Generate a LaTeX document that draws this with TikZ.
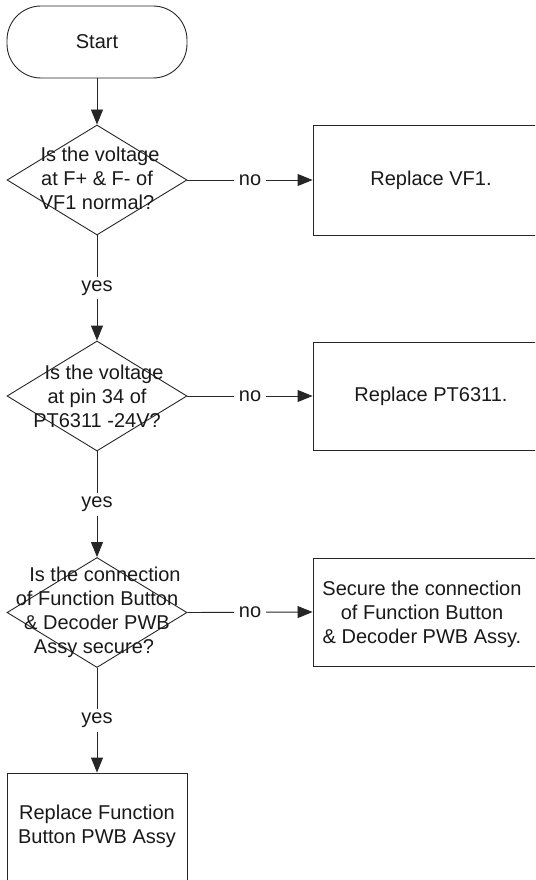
\documentclass[tikz,border=0pt]{standalone}
\usepackage{fontspec}
\setmainfont{Liberation Sans}
\usetikzlibrary{shapes.geometric,arrows.meta}
\begin{document}
\begin{tikzpicture}[x=1pt,y=-1pt,
  every node/.style={font=\fontsize{20}{24}\selectfont, text=black!90},
  ln/.style={draw=black!85, line width=0.9pt},
  arr/.style={ln, -{Triangle[length=15pt,width=12pt]}},
  dia/.style={ln, shape=diamond, minimum width=180pt, minimum height=110pt, inner sep=0pt},
  boxr/.style={ln, shape=rectangle, inner sep=0pt},
  lbl/.style={align=center, inner sep=0pt},
  edgelbl/.style={fill=white, inner xsep=5pt, inner ysep=4pt}]
\useasboundingbox (0,0) rectangle (535,880);
\clip (0,0) rectangle (535,880);
% start
\node[ln, rectangle, rounded corners=34pt, minimum width=180pt, minimum height=72pt] (start) at (97,42) {Start};
% diamonds
\node[dia] (d1) at (97,180) {};
\node[lbl] (t1) at (97,178) {\hspace*{6pt}Is the voltage\\at F+ \& F- of\hspace*{14pt}\\VF1 normal?};
\node[dia] (d2) at (97,396) {};
\node[lbl] (t2) at (97,396) {\hspace*{14pt}Is the voltage\\at pin 34 of\hspace*{6pt}\\PT6311 -24V?};
\node[dia] (d3) at (97,612.5) {};
\node[lbl] (t3) at (97,612) {\hspace*{16pt}Is the connection\\of Function Button\\\& Decoder PWB\\Assy secure?\hspace*{6pt}};
% right boxes
\node[boxr, minimum width=240pt, minimum height=110pt] (b1) at (433,180) {};
\node[lbl] (bt1) at (431,180) {Replace VF1.};
\node[boxr, minimum width=240pt, minimum height=108pt] (b2) at (433,396) {};
\node[lbl] (bt2) at (431,396) {Replace PT6311.};
\node[boxr, minimum width=240pt, minimum height=108pt] (b3) at (433,612) {};
\node[lbl] (bt3) at (422,614) {Secure the connection\\of Function Button\\\& Decoder PWB Assy.};
% bottom box
\node[boxr, minimum width=180pt, minimum height=130pt] (b4) at (97,838) {};
\node[lbl] (bt4) at (97,826) {Replace Function\\Button PWB Assy};
% connectors
\draw[arr] (start.south) -- (d1.north);
\draw[arr] (d1.east) -- node[edgelbl] (n1) {no} (b1.west);
\draw[arr] (d2.east) -- node[edgelbl] (n2) {no} (b2.west);
\draw[arr] (d3.east) -- node[edgelbl] (n3) {no} (b3.west);
\draw[arr] (d1.south) -- node[edgelbl] (y1) {yes} (d2.north);
\draw[arr] (d2.south) -- node[edgelbl] (y2) {yes} (d3.north);
\draw[arr] (d3.south) -- node[edgelbl] (y3) {yes} (b4.north);
\end{tikzpicture}
\end{document}
